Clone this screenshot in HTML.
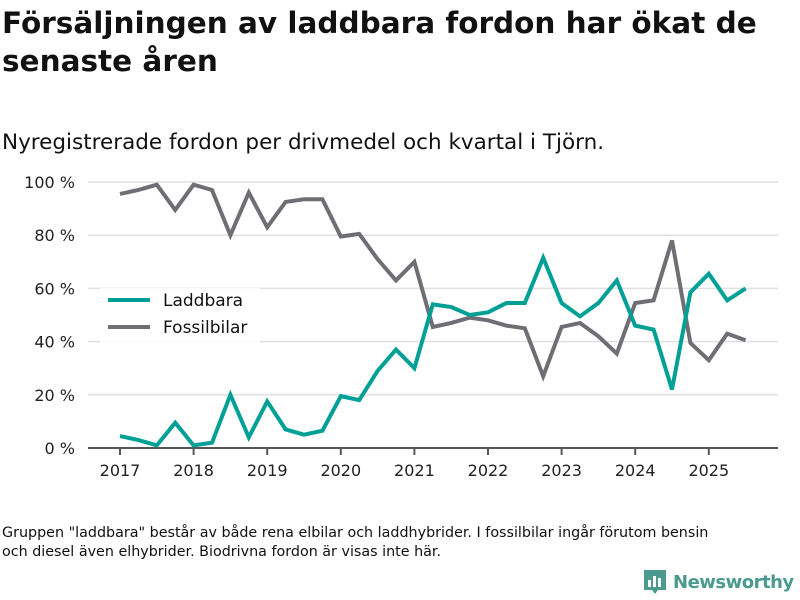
<!DOCTYPE html>
<html><head><meta charset="utf-8"><style>
body{margin:0;width:800px;height:600px;background:#fff;font-family:"DejaVu Sans","Liberation Sans",sans-serif;color:#111;position:relative;overflow:hidden}
h1{position:absolute;left:2px;top:4px;margin:0;font-size:29.5px;font-weight:bold;line-height:38px;width:790px}
.sub{position:absolute;left:2px;top:130px;font-size:21.5px}
.foot{position:absolute;left:2px;top:524px;font-size:14.3px;line-height:19px;width:725px}
.logo{position:absolute;left:643px;top:569px;font-size:18px;font-weight:bold;color:#4a9a8e;display:flex;align-items:center;gap:6px;letter-spacing:-0.5px}
</style></head><body>
<h1>Försäljningen av laddbara fordon har ökat de senaste åren</h1>
<div class="sub">Nyregistrerade fordon per drivmedel och kvartal i Tjörn.</div>
<svg id="c" width="800" height="600" style="position:absolute;left:0;top:0"></svg>
<div class="foot">Gruppen "laddbara" består av både rena elbilar och laddhybrider. I fossilbilar ingår förutom bensin och diesel även elhybrider. Biodrivna fordon är visas inte här.</div>
<div class="logo"><svg width="24" height="26"><path d="M1 1h22v20h-8l-3 4-3-4H1z" fill="#4a9a8e"/><rect x="5" y="11" width="3" height="7" fill="#fff"/><rect x="10" y="7" width="3" height="11" fill="#fff"/><rect x="15" y="9" width="3" height="9" fill="#fff"/></svg>Newsworthy</div>
<script>
const years=[2017,2018,2019,2020,2021,2022,2023,2024,2025];
const yTicks=[0,20,40,60,80,100];
const laddbara=[4.5,3,1,9.5,1,2,20,4,17.5,7,5,6.5,19.5,18,29,37,30,54,53,50,51,54.5,54.5,71.5,54.5,49.5,54.5,63,46,44.5,22,58.5,65.5,55.5,60];
const fossil=[95.5,97,99,89.5,99,97,80,96,83,92.5,93.5,93.5,79.5,80.5,71,63,70,45.5,47,49,48,46,45,27,45.5,47,42,35.5,54.5,55.5,78,39.5,33,43,40.5];
const svg=document.getElementById('c');const NS='http://www.w3.org/2000/svg';
const X=t=>120+(t-2017)*73.6, Y=v=>448-v*2.66;
function el(tag,a,p){const e=document.createElementNS(NS,tag);for(const k in a)e.setAttribute(k,a[k]);(p||svg).appendChild(e);return e;}
yTicks.forEach(v=>{
 const g=el('line',{x1:88,x2:778,y1:Y(v),y2:Y(v),stroke:v?'#e0e0e0':'#555','stroke-width':v?1.5:2});
 
 
 const t=el('text',{x:75,y:Y(v)+6,'text-anchor':'end','font-size':16,fill:'#222'});t.textContent=v+' %';
 
 
});
years.forEach(y=>{
 const tk=el('line',{x1:X(y),x2:X(y),y1:448,y2:455,stroke:'#555','stroke-width':2});
 
 
 const t=el('text',{x:X(y),y:476,'text-anchor':'middle','font-size':16,fill:'#222'});t.textContent=y;
 
 
});
function line(d,c,n){const p=el('polyline',{points:d.map((v,i)=>X(2017+i/4)+','+Y(v)).join(' '),fill:'none',stroke:c,'stroke-width':4,'stroke-linejoin':'miter'});
 
 }
line(fossil,'#6f6e75','fossilbilar-line');
line(laddbara,'#00a096','laddbara-line');
const lb=el('rect',{x:100,y:288,width:160,height:55,fill:'#fff','fill-opacity':0.85});


[['Laddbara','#00a096',300],['Fossilbilar','#6f6e75',327]].forEach(([n,c,y])=>{
 const l=el('line',{x1:108,x2:150,y1:y,y2:y,stroke:c,'stroke-width':4});
 
 
 const t=el('text',{x:163,y:y+6,'font-size':17,fill:'#111'});t.textContent=n;
 
 
});
</script>
</body></html>
